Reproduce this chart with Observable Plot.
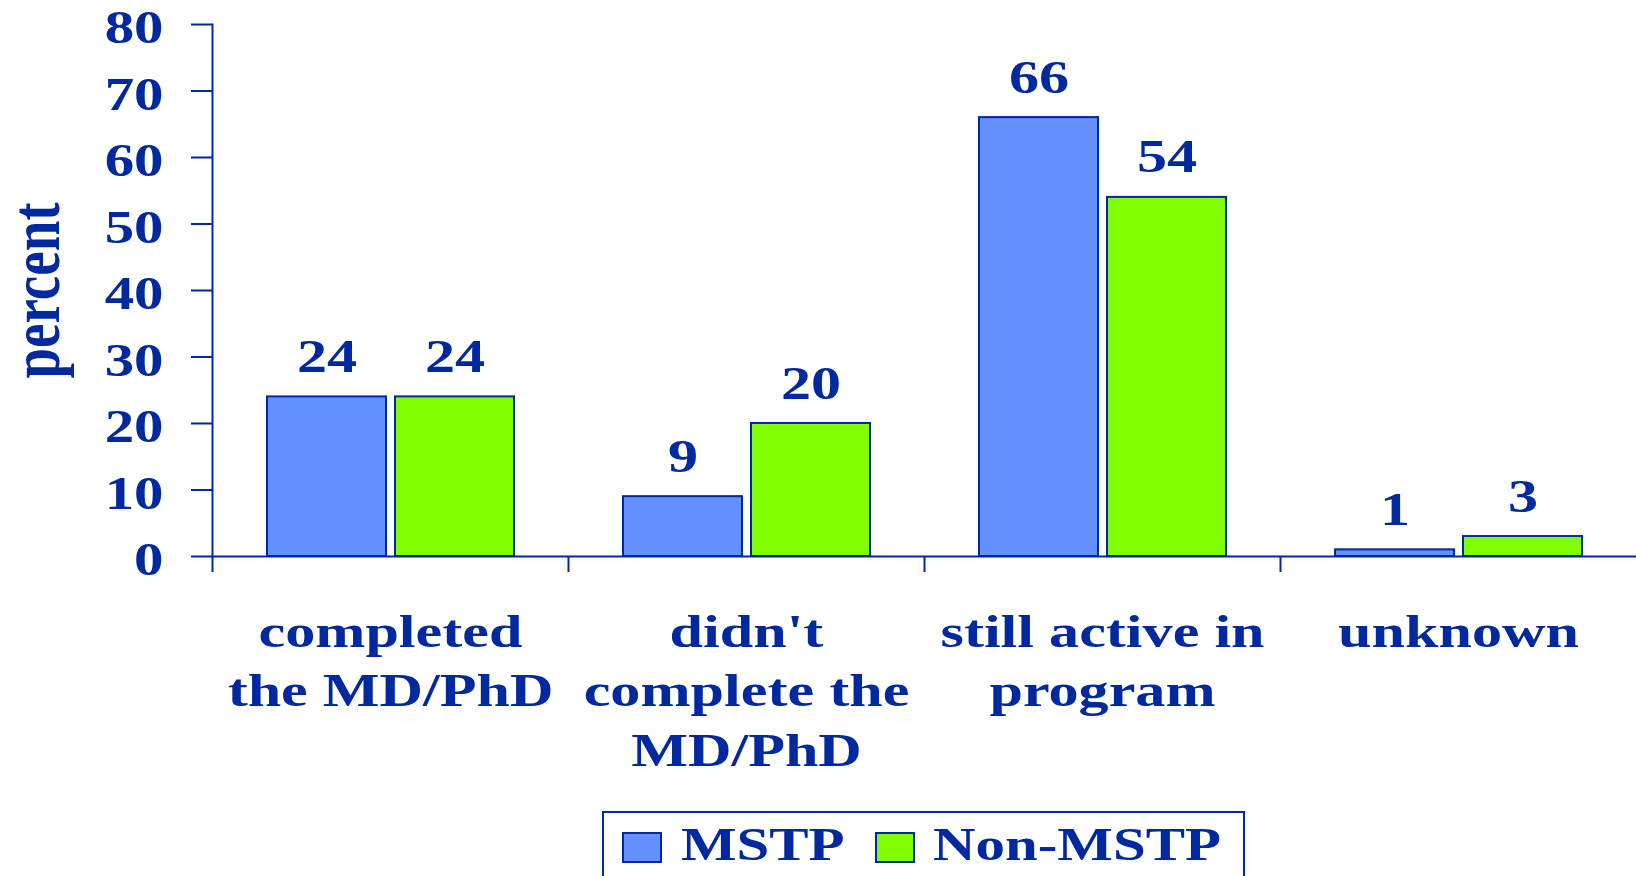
<!DOCTYPE html>
<html>
<head>
<meta charset="utf-8">
<script src="https://cdn.jsdelivr.net/npm/d3@7"></script>
<script src="https://cdn.jsdelivr.net/npm/@observablehq/plot@0.6"></script>
<style>
  html, body { margin: 0; padding: 0; background: #fff; }
  #wrap { position: relative; width: 1636px; height: 876px; overflow: hidden; background: #fff; }
  #wrap svg { display: block; }
  .lg-box { position: absolute; box-sizing: border-box; border: 2px solid #00289f; }
  .lg-sw { position: absolute; box-sizing: border-box; border: 2px solid #00289f; }
  .lg-tx { position: absolute; font-family: "Liberation Serif", "Times New Roman", serif; font-weight: bold;
           font-size: 46px; line-height: 1; color: #00289f; white-space: nowrap;
           transform: scaleX(1.28); transform-origin: 0 0; }
</style>
</head>
<body>
<div id="wrap"></div>
<script>
// ---- data ----
const categories = ["completed the MD/PhD", "didn't complete the MD/PhD", "still active in program", "unknown"];
const categoryLabels = ["completed\nthe MD/PhD", "didn't\ncomplete the\nMD/PhD", "still active in\nprogram", "unknown"];
const series = ["MSTP", "Non-MSTP"];
const mstp = [24, 9, 66, 1];
const nonMstp = [24, 20, 54, 3];
const yTicks = [0, 10, 20, 30, 40, 50, 60, 70, 80];
const yLabel = "percent";
const colors = ["#6490ff", "#80ff00"];

const ink = "#00289f";
const rows = categories.flatMap((c, i) => [
  {cat: c, series: series[0], value: mstp[i]},
  {cat: c, series: series[1], value: nonMstp[i]}
]);

const W = 1636, H = 800, ML = 212, MR = 0;
const halfStep = (W - ML - MR) / categories.length / 2;

const svg = Plot.plot({
  width: W, height: H,
  marginLeft: ML, marginRight: MR, marginTop: 24, marginBottom: 244,
  style: {fontFamily: "'Liberation Serif', 'Times New Roman', serif", fontWeight: "bold", color: ink, background: "#fff"},
  fx: {domain: categories, padding: 0, axis: null},
  x: {domain: series, paddingInner: 0.0734, paddingOuter: 0.417, axis: null},
  y: {domain: [0, 80], axis: null},
  color: {domain: series, range: colors},
  marks: [
    Plot.ruleY([0], {stroke: ink, strokeWidth: 2}),
    Plot.barY(rows, {fx: "cat", x: "series", y: "value", fill: "series", stroke: ink, strokeWidth: 2}),
    Plot.text(rows, {fx: "cat", x: "series", y: "value", text: d => String(d.value), lineAnchor: "bottom", dy: -25, fontSize: 47, fill: ink}),
    Plot.axisY({ticks: yTicks, tickSize: 21, tickFormat: () => "", strokeWidth: 2, label: null}),
    Plot.axisY({ticks: yTicks, tickSize: 21, tickPadding: 28, fontSize: 46, dy: 4, stroke: "none", label: null}),
    Plot.frame({anchor: "left", facetAnchor: "left", stroke: ink, strokeWidth: 2}),
    Plot.axisFx({anchor: "bottom", tickSize: 16, tickFormat: () => "", dx: -halfStep, strokeWidth: 2, label: null}),
    Plot.axisFx({anchor: "bottom", tickSize: 0, tickPadding: 48, fontSize: 47, lineHeight: 1.266,
                 tickFormat: d => categoryLabels[categories.indexOf(d)], label: null}),
    Plot.text([yLabel], {frameAnchor: "left", facetAnchor: "left", rotate: -90, textAnchor: "middle", lineAnchor: "bottom",
                         dx: -154, fontSize: 55, fill: ink})
  ]
});

// horizontal stretch of glyphs (the reference type is wide)
const SX = 1.28;
svg.querySelectorAll("text").forEach(t => {
  let tr = t.getAttribute("transform");
  if (!tr) {
    const x = +t.getAttribute("x") || 0, y = +t.getAttribute("y") || 0;
    t.removeAttribute("x"); t.removeAttribute("y");
    tr = `translate(${x},${y})`;
  }
  t.setAttribute("transform", tr + (/rotate\(\s*-?90/.test(tr) ? ` scale(1,${SX})` : ` scale(${SX},1)`));
});

const wrap = document.getElementById("wrap");
wrap.appendChild(svg);

// legend below the chart
const box = document.createElement("div");
box.className = "lg-box";
Object.assign(box.style, {left: "602px", top: "811px", width: "643px", height: "90px"});
wrap.appendChild(box);
const swX = [622, 875], txX = [681, 933];
series.forEach((s, i) => {
  const sw = document.createElement("div");
  sw.className = "lg-sw";
  Object.assign(sw.style, {left: swX[i] + "px", top: "832px", width: "40px", height: "31px", background: colors[i]});
  wrap.appendChild(sw);
  const tx = document.createElement("span");
  tx.className = "lg-tx";
  tx.textContent = s;
  Object.assign(tx.style, {left: txX[i] + "px", top: "822px"});
  wrap.appendChild(tx);
});
</script>
</body>
</html>
